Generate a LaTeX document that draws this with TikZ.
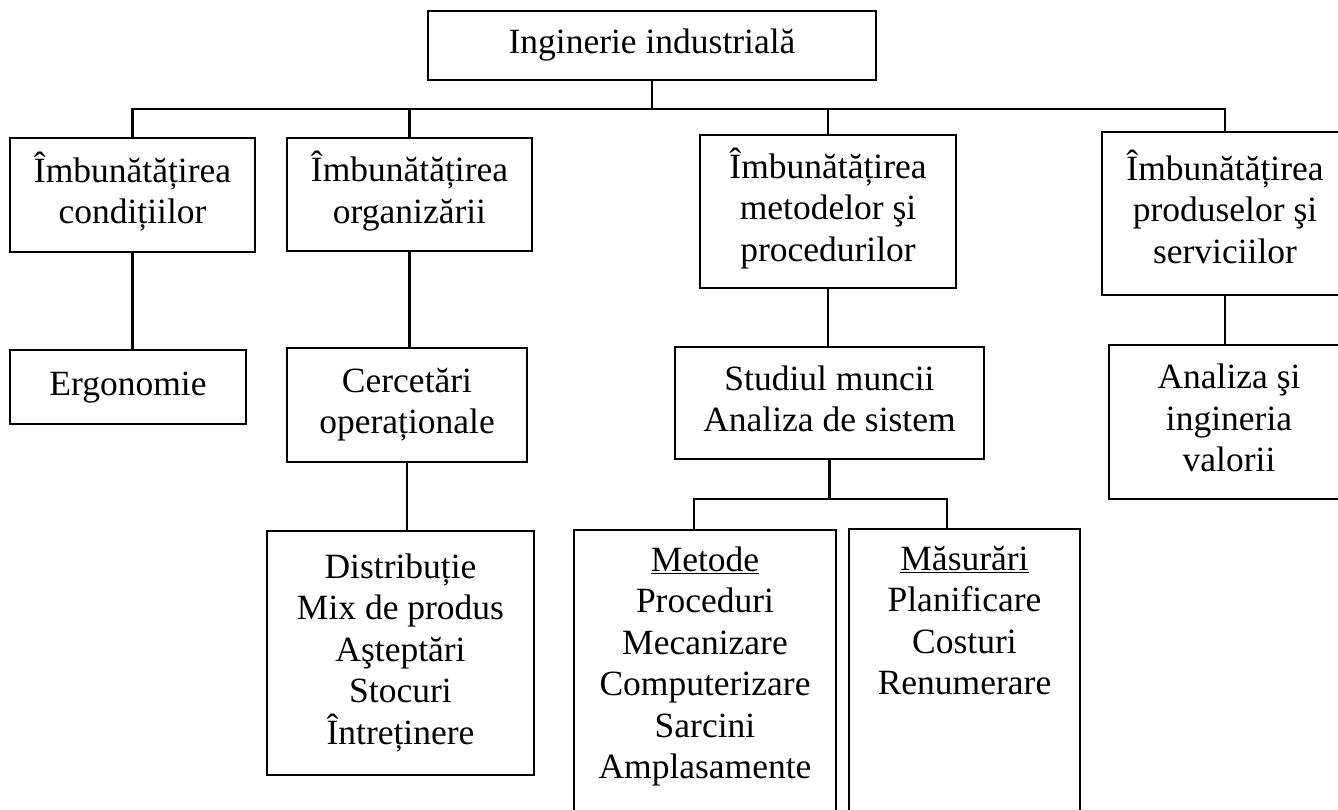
\documentclass[tikz,border=0pt]{standalone}
\usepackage{fontspec}
\setmainfont{Liberation Serif}
% line strut: keeps every text line the same height so blocks centre on the x-height
\newcommand\lnstrut{\rule[-22pt]{0pt}{60pt}}
\begin{document}
\setlength{\lineskiplimit}{-1000pt}
\begin{tikzpicture}[x=1pt,y=-1pt,
  boxfont/.style={font=\fontsize{35.5}{41.5}\selectfont},
  box/.style={draw, line width=2.2pt, inner sep=0pt, align=center, boxfont},
  txt/.style={inner sep=0pt, align=center, boxfont},
  link/.style={line width=2.2pt}]
\useasboundingbox (0,0) rectangle (1338,809);
\clip (0,0) rectangle (1338,809);

% top level
\node[box, minimum width=448pt, minimum height=69pt] (root) at (652,45.5)
  {\lnstrut Inginerie industrială};

% second level
\node[box, minimum width=245pt, minimum height=114pt] (a) at (132.5,195)
  {\lnstrut Îmbunătățirea\\\lnstrut condițiilor};
\node[box, minimum width=245pt, minimum height=113pt] (b) at (409.5,194.5)
  {\lnstrut Îmbunătățirea\\\lnstrut organizării};
\node[box, minimum width=256pt, minimum height=153pt] (c) at (828,211.5)
  {\lnstrut Îmbunătățirea\\\lnstrut metodelor şi\\\lnstrut procedurilor};
\node[box, minimum width=246pt, minimum height=163pt] (d) at (1225,213.5)
  {\lnstrut Îmbunătățirea\\\lnstrut produselor şi\\\lnstrut serviciilor};

% third level
\node[box, minimum width=236pt, minimum height=74pt] (ergo) at (128,387)
  {\lnstrut Ergonomie};
\node[box, minimum width=240pt, minimum height=114pt] (cer) at (407,405)
  {\lnstrut Cercetări\\\lnstrut operaționale};
\node[box, minimum width=309pt, minimum height=112pt] (stu) at (829.5,403)
  {\lnstrut Studiul muncii\\\lnstrut Analiza de sistem};
\node[box, minimum width=240pt, minimum height=154pt] (ana) at (1229,422)
  {\lnstrut Analiza şi\\\lnstrut ingineria\\\lnstrut valorii};

% fourth level
\node[box, minimum width=267pt, minimum height=244pt] (dis) at (400.5,653)
  {\lnstrut Distribuție\\\lnstrut Mix de produs\\\lnstrut Aşteptări\\\lnstrut Stocuri\\\lnstrut Întreținere};
\node[box, anchor=north, minimum width=262pt, minimum height=320pt] (met) at (705,529) {};
\node[box, anchor=north, minimum width=231pt, minimum height=320pt] (mas) at (964.5,528) {};
\node[txt, anchor=north] (met-t) at ([yshift=-4pt]met.north)
  {\lnstrut\underline{Metode}\\\lnstrut Proceduri\\\lnstrut Mecanizare\\\lnstrut Computerizare\\\lnstrut Sarcini\\\lnstrut Amplasamente};
\node[txt, anchor=north] (mas-t) at ([yshift=-4pt]mas.north)
  {\lnstrut\underline{Măsurări}\\\lnstrut Planificare\\\lnstrut Costuri\\\lnstrut Renumerare};

% connectors
\coordinate (bus) at (0,109);
\coordinate (split) at (0,499);
\draw[link] (root.south) -- (root.south |- bus);
\draw[link] (a.north) |- (d.north |- bus) -- (d.north);
\draw[link] (b.north) -- (b.north |- bus);
\draw[link] (c.north) -- (c.north |- bus);
\draw[link] (a.south) -- (a.south |- ergo.north);
\draw[link] (b.south) -- (b.south |- cer.north);
\draw[link] (cer.south) -- (cer.south |- dis.north);
\draw[link] (c.south) -- (c.south |- stu.north);
\draw[link] (d.south) -- (d.south |- ana.north);
\draw[link] (stu.south) -- (stu.south |- split);
\draw[link] ([xshift=-11pt]met.north) |- ([xshift=-17.5pt]mas.north |- split)
  -- ([xshift=-17.5pt]mas.north);
\end{tikzpicture}
\end{document}
